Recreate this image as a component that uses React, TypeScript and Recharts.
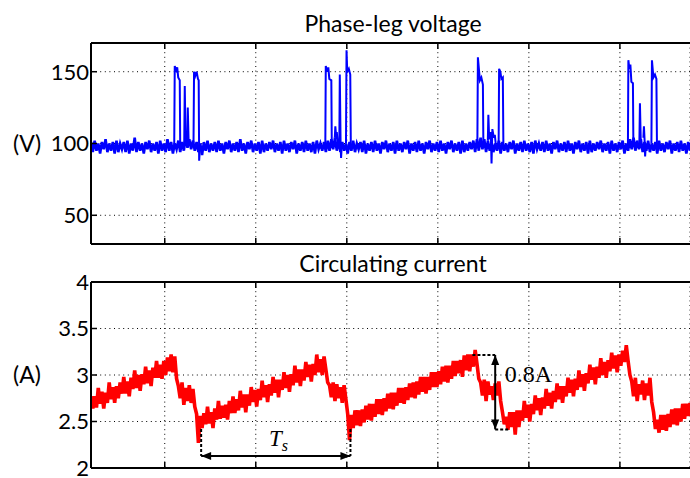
import React from "react";
import {
  ComposedChart,
  Line,
  XAxis,
  YAxis,
  CartesianGrid,
  ReferenceLine,
  ReferenceDot,
} from "recharts";

// ---------------------------------------------------------------------------
// Datos (tiempo en divisiones de la rejilla, tensión en V, corriente en A)
// ---------------------------------------------------------------------------
const T_DOMAIN: [number, number] = [-0.81, 5.77];
const T_TICKS = [0, 1, 2, 3, 4, 5];
const SAMPLE_START = -0.81;
const SAMPLE_STEP = 0.02;

const V_DOMAIN: [number, number] = [30, 170];
const V_TICKS = [50, 100, 150];
const I_DOMAIN: [number, number] = [2, 4];
const I_TICKS = [2, 2.5, 3, 3.5, 4];

// tensión de rama: ruido de base, una muestra cada SAMPLE_STEP
const VOLTAGE_BASE = [
  101, 94, 102, 95, 100, 93, 101, 96, 103, 94,
  100, 95, 101, 93, 102, 94, 100, 96, 101, 94,
  102, 93, 100, 95, 104, 94, 101, 95, 100, 93,
  101, 96, 102, 94, 100, 95, 101, 93, 102, 95,
  100, 94, 103, 95, 101, 93, 100, 96, 102, 94,
  101, 95, 104, 97, 103, 96, 102, 95, 101, 94,
  100, 92, 101, 95, 102, 94, 100, 95, 101, 94,
  102, 95, 100, 93, 101, 96, 102, 94, 100, 95,
  101, 94, 103, 95, 100, 93, 101, 96, 102, 94,
  100, 95, 101, 93, 102, 94, 100, 95, 101, 96,
  102, 94, 100, 95, 101, 93, 102, 95, 100, 94,
  101, 96, 102, 93, 100, 95, 101, 94, 102, 95,
  100, 94, 101, 93, 102, 96, 100, 95, 101, 94,
  102, 95, 103, 96, 104, 95, 102, 94, 101, 95,
  100, 93, 101, 95, 102, 94, 100, 96, 101, 94,
  102, 93, 100, 95, 101, 94, 102, 95, 100, 93,
  101, 96, 102, 94, 100, 95, 101, 93, 102, 95,
  100, 94, 101, 96, 102, 93, 100, 95, 101, 94,
  102, 95, 100, 93, 101, 96, 102, 94, 100, 95,
  101, 94, 102, 95, 100, 93, 101, 96, 102, 94,
  100, 95, 101, 93, 102, 94, 100, 95, 101, 96,
  102, 94, 103, 95, 104, 96, 103, 94, 102, 95,
  101, 94, 100, 95, 102, 93, 101, 95, 100, 94,
  101, 96, 102, 93, 100, 95, 101, 94, 102, 95,
  100, 94, 101, 93, 102, 96, 100, 95, 101, 94,
  102, 95, 100, 93, 101, 96, 102, 94, 100, 95,
  101, 94, 102, 95, 100, 93, 101, 96, 102, 94,
  100, 95, 101, 93, 102, 94, 100, 95, 101, 96,
  102, 94, 100, 95, 101, 93, 102, 95, 100, 94,
  101, 96, 102, 93, 100, 95, 103, 96, 104, 95,
  102, 96, 103, 94, 101, 95, 102, 94, 100, 95,
  101, 93, 102, 95, 100, 94, 101, 96, 102, 93,
  100, 95, 101, 94, 102, 95, 100, 93, 101, 95,
];

// pulsos de conmutación [t, V]; null separa cada pulso
const VOLTAGE_SPIKES: ([number, number] | null)[] = [
  [0.104, 98], [0.11, 154], [0.126, 151], [0.137, 153], [0.148, 146], [0.165, 144], [0.17, 98], null,
  [0.214, 100], [0.22, 140], [0.229, 99], null,
  [0.247, 100], [0.253, 125], [0.262, 102], null,
  [0.316, 100], [0.322, 150], [0.335, 147], [0.35, 150], [0.365, 145], [0.373, 144], [0.378, 88], [0.39, 100], null,
  [1.764, 98], [1.769, 154], [1.786, 150], [1.797, 153], [1.808, 145], [1.83, 144], [1.835, 100], null,
  [1.868, 104], [1.874, 112], [1.885, 103], [1.89, 108], [1.899, 101], null,
  [1.918, 100], [1.923, 148], [1.932, 99], [1.937, 90], [1.945, 99], null,
  [1.991, 100], [1.997, 165], [2.005, 150], [2.022, 152], [2.038, 148], [2.044, 99], null,
  [3.434, 98], [3.44, 160], [3.451, 152], [3.462, 144], [3.478, 146], [3.495, 141], [3.5, 100], null,
  [3.549, 102], [3.555, 120], [3.564, 103], [3.582, 108], [3.59, 86], [3.599, 110], [3.615, 104], [3.626, 106], [3.637, 99], null,
  [3.668, 100], [3.673, 152], [3.687, 150], [3.698, 145], [3.714, 146], [3.72, 99], null,
  [5.088, 98], [5.093, 158], [5.104, 152], [5.115, 155], [5.126, 143], [5.143, 142], [5.148, 100], null,
  [5.214, 101], [5.22, 128], [5.229, 102], null,
  [5.258, 104], [5.264, 112], [5.273, 100], [5.277, 91], [5.286, 100], null,
  [5.346, 100], [5.352, 158], [5.368, 146], [5.385, 148], [5.401, 145], [5.407, 99],
];

// corriente circulante, una muestra cada SAMPLE_STEP
const CURRENT = [
  // rampa 1
  2.77, 2.64, 2.77, 2.65, 2.86, 2.69, 2.82, 2.64, 2.81, 2.70,
  2.92, 2.74, 2.87, 2.70, 2.88, 2.75, 2.92, 2.80, 2.98, 2.80,
  2.93, 2.77, 2.97, 2.85, 3.05, 2.86, 3.00, 2.83, 3.01, 2.90,
  3.09, 2.91, 3.05, 2.88, 3.08, 2.97, 3.15, 2.97, 3.11, 2.96,
  3.15, 3.00, 3.19, 3.04, 3.22, 3.03, 3.20,
  2.96,
  2.88, 2.75, 2.92, 2.68, 2.86, 2.72, 2.89, 2.70, 2.85, 2.66,
  2.58, 2.27,
  // rampa 2
  2.56, 2.43, 2.59, 2.47, 2.66, 2.48, 2.60, 2.43, 2.64, 2.52,
  2.72, 2.53, 2.67, 2.54, 2.68, 2.52, 2.72, 2.59, 2.77, 2.59,
  2.74, 2.62, 2.83, 2.65, 2.79, 2.60, 2.79, 2.67, 2.87, 2.71,
  2.84, 2.66, 2.85, 2.73, 2.94, 2.76, 2.89, 2.71, 2.90, 2.78,
  2.98, 2.81, 2.95, 2.76, 2.95, 2.84, 3.03, 2.86, 3.00, 2.82,
  3.01, 2.89, 3.10, 2.92, 3.06, 2.88, 3.06, 2.94, 3.14, 2.98,
  3.11, 2.93, 3.12, 3.00, 3.22, 3.03, 3.17, 3.00, 3.20, 3.06,
  2.92,
  2.89, 2.76, 2.92, 2.72, 2.90, 2.75, 2.87, 2.70, 2.89, 2.74,
  2.58, 2.30,
  // rampa 3
  2.57, 2.43, 2.62, 2.46, 2.62, 2.45, 2.63, 2.49, 2.67, 2.52,
  2.69, 2.51, 2.69, 2.55, 2.74, 2.58, 2.74, 2.57, 2.75, 2.61,
  2.80, 2.64, 2.81, 2.63, 2.81, 2.67, 2.86, 2.70, 2.86, 2.69,
  2.87, 2.73, 2.91, 2.76, 2.92, 2.75, 2.93, 2.79, 2.98, 2.82,
  2.98, 2.80, 2.98, 2.84, 3.03, 2.87, 3.03, 2.87, 3.04, 2.90,
  3.09, 2.93, 3.10, 2.92, 3.10, 2.96, 3.15, 2.99, 3.15, 3.02,
  3.16, 2.98, 3.21, 3.05, 3.22, 3.04, 3.22, 3.09, 3.27, 3.12,
  2.96,
  2.92, 2.78, 2.95, 2.72, 2.93, 2.79, 2.88, 2.73, 2.91, 2.78, 2.93, 2.72,
  2.60, 2.47,
  // rampa 4
  2.55, 2.41, 2.60, 2.44, 2.60, 2.36, 2.62, 2.44, 2.62, 2.51,
  2.72, 2.54, 2.68, 2.50, 2.69, 2.58, 2.78, 2.62, 2.75, 2.57,
  2.76, 2.64, 2.85, 2.67, 2.81, 2.64, 2.83, 2.71, 2.91, 2.74,
  2.88, 2.70, 2.88, 2.77, 2.97, 2.81, 2.95, 2.77, 2.96, 2.84,
  3.05, 2.87, 3.01, 2.83, 3.02, 2.91, 3.11, 2.95, 3.08, 2.90,
  3.09, 2.97, 3.18, 3.00, 3.14, 2.97, 3.16, 3.04, 3.24, 3.07,
  3.21, 3.03, 3.22, 3.10, 3.26, 3.14, 3.32, 3.15,
  3.00,
  2.93, 2.77, 2.97, 2.72, 2.90, 2.79, 2.94, 2.73, 2.91, 2.78, 2.97, 2.71,
  2.60, 2.42,
  // rampa 5
  2.52, 2.38, 2.57, 2.41, 2.57, 2.40, 2.58, 2.44, 2.63, 2.47,
  2.64, 2.46, 2.64, 2.50, 2.69, 2.53, 2.69, 2.56, 2.70,
];

// anotaciones
const TS_START = 0.4;
const TS_END = 2.04;
const TS_LEVEL = 2.13;
const TS_FOOT = 2.42;
const TS_LABEL_AT: [number, number] = [1.25, 2.236];

const DELTA_PEAK = 3.215;
const DELTA_VALLEY = 2.415;
const DELTA_AT = 3.63;
const DELTA_PEAK_FROM = 3.38;
const DELTA_VALLEY_TO = 3.78;
const DELTA_LABEL_AT: [number, number] = [3.735, 2.925];
const DELTA_LABEL = "0.8A";

// ---------------------------------------------------------------------------
// Estilos
// ---------------------------------------------------------------------------
const FONT = "Lato, 'Open Sans', sans-serif";
const SERIF = "'Liberation Serif', 'DejaVu Serif', serif";
const W = 690;
const AXIS_LINE = { stroke: "#000", strokeWidth: 2 };
const TICK_LINE = { stroke: "#000", strokeWidth: 1.5 };
const TICK_STYLE = { fill: "#000", fontSize: 22, fontFamily: FONT };
const GRID_DASH = "1 3.6";

const sampled = (arr: number[]) =>
  arr.map((v, i) => ({ t: SAMPLE_START + i * SAMPLE_STEP, v }));

const voltageData = sampled(VOLTAGE_BASE);
const currentData = sampled(CURRENT);
const spikeData = VOLTAGE_SPIKES.map((p, i) =>
  p ? { t: p[0], v: p[1] } : { t: (VOLTAGE_SPIKES[i - 1] as [number, number])[0], v: null }
);

function arrowShape(bothEnds: boolean) {
  return (p: any) => {
    const { x1, y1, x2, y2 } = p;
    const a = Math.atan2(y2 - y1, x2 - x1);
    const L = 10;
    const H = 4;
    const head = (x: number, y: number, ang: number, k: string) => {
      const bx = x - L * Math.cos(ang);
      const by = y - L * Math.sin(ang);
      const nx = -Math.sin(ang) * H;
      const ny = Math.cos(ang) * H;
      return (
        <polygon
          key={k}
          points={`${x},${y} ${bx + nx},${by + ny} ${bx - nx},${by - ny}`}
          fill="#000"
        />
      );
    };
    return (
      <g>
        <line x1={x1} y1={y1} x2={x2} y2={y2} stroke="#000" strokeWidth={2} />
        {head(x2, y2, a, "e")}
        {bothEnds && head(x1, y1, a + Math.PI, "s")}
      </g>
    );
  };
}

function Title({ top, children }: { top: number; children: React.ReactNode }) {
  return (
    <div
      style={{
        position: "absolute",
        left: 91,
        top,
        width: 604,
        textAlign: "center",
        fontSize: 23,
        fontFamily: FONT,
        color: "#000",
        whiteSpace: "nowrap",
      }}
    >
      {children}
    </div>
  );
}

const noLabel = () => "";

// ejes de tiempo abajo y arriba, solo con marcas hacia dentro
function xAxes() {
  return [
    <XAxis
      key="b"
      dataKey="t"
      type="number"
      domain={T_DOMAIN}
      ticks={T_TICKS}
      interval={0}
      allowDataOverflow
      height={1}
      tickFormatter={noLabel}
      tickSize={-6}
      axisLine={AXIS_LINE}
      tickLine={TICK_LINE}
    />,
    <XAxis
      key="t"
      xAxisId="top"
      orientation="top"
      dataKey="t"
      type="number"
      domain={T_DOMAIN}
      ticks={T_TICKS}
      interval={0}
      allowDataOverflow
      height={1}
      tickFormatter={noLabel}
      tickSize={-6}
      axisLine={AXIS_LINE}
      tickLine={TICK_LINE}
    />,
  ];
}

export default function App() {
  return (
    <div
      style={{
        position: "absolute",
        left: 0,
        top: 0,
        width: W,
        height: 478,
        background: "#fff",
        overflow: "hidden",
      }}
    >
      <Title top={9}>Phase-leg voltage</Title>
      <div style={{ position: "absolute", left: 0, top: 0 }}>
        <ComposedChart
          width={W}
          height={250}
          margin={{ top: 42, right: 0, bottom: 5, left: 0 }}
        >
          <CartesianGrid stroke="#000" strokeDasharray={GRID_DASH} />
          {xAxes()}
          <YAxis
            type="number"
            domain={V_DOMAIN}
            ticks={V_TICKS}
            interval={0}
            allowDataOverflow
            width={91}
            tickSize={-6}
            tickMargin={8}
            tick={TICK_STYLE}
            axisLine={AXIS_LINE}
            tickLine={TICK_LINE}
            label={{
              value: "(V)",
              position: "insideLeft",
              offset: 13,
              fill: "#000",
              fontSize: 23,
              fontFamily: FONT,
            }}
          />
          <Line
            data={voltageData}
            dataKey="v"
            type="linear"
            stroke="#0000ff"
            strokeWidth={2.6}
            dot={false}
            activeDot={false}
            isAnimationActive={false}
          />
          <Line
            data={spikeData}
            dataKey="v"
            type="linear"
            stroke="#0000ff"
            strokeWidth={2}
            dot={false}
            activeDot={false}
            connectNulls={false}
            isAnimationActive={false}
          />
        </ComposedChart>
      </div>

      <Title top={249}>Circulating current</Title>
      <div style={{ position: "absolute", left: 0, top: 250 }}>
        <ComposedChart
          width={W}
          height={228}
          margin={{ top: 31, right: 0, bottom: 9, left: 0 }}
        >
          <CartesianGrid stroke="#000" strokeDasharray={GRID_DASH} />
          {xAxes()}
          <YAxis
            type="number"
            domain={I_DOMAIN}
            ticks={I_TICKS}
            interval={0}
            allowDataOverflow
            width={91}
            tickSize={-6}
            tickMargin={8}
            tick={TICK_STYLE}
            axisLine={AXIS_LINE}
            tickLine={TICK_LINE}
            label={{
              value: "(A)",
              position: "insideLeft",
              offset: 13,
              fill: "#000",
              fontSize: 23,
              fontFamily: FONT,
            }}
          />
          <Line
            data={currentData}
            dataKey="v"
            type="linear"
            stroke="#ff0000"
            strokeWidth={3.6}
            dot={false}
            activeDot={false}
            isAnimationActive={false}
          />

          {/* Ts */}
          <ReferenceLine
            segment={[{ x: TS_START, y: TS_FOOT }, { x: TS_START, y: TS_LEVEL }]}
            stroke="#000"
            strokeWidth={2}
            strokeDasharray="3 2"
          />
          <ReferenceLine
            segment={[{ x: TS_END, y: TS_FOOT }, { x: TS_END, y: TS_LEVEL }]}
            stroke="#000"
            strokeWidth={2}
            strokeDasharray="3 2"
          />
          <ReferenceLine
            segment={[{ x: TS_START, y: TS_LEVEL }, { x: TS_END, y: TS_LEVEL }]}
            shape={arrowShape(true)}
          />
          <ReferenceDot
            x={TS_LABEL_AT[0]}
            y={TS_LABEL_AT[1]}
            r={0}
            shape={(p: any) => (
              <text
                x={p.cx}
                y={p.cy}
                textAnchor="middle"
                fontFamily={SERIF}
                fontStyle="italic"
                fontSize={23}
                fill="#000"
              >
                T
                <tspan dy={5} fontSize={16}>
                  s
                </tspan>
              </text>
            )}
          />

          {/* 0.8A */}
          <ReferenceLine
            segment={[{ x: DELTA_PEAK_FROM, y: DELTA_PEAK }, { x: DELTA_AT, y: DELTA_PEAK }]}
            stroke="#000"
            strokeWidth={2}
            strokeDasharray="3 2"
          />
          <ReferenceLine
            segment={[{ x: DELTA_AT, y: DELTA_VALLEY }, { x: DELTA_VALLEY_TO, y: DELTA_VALLEY }]}
            stroke="#000"
            strokeWidth={2}
            strokeDasharray="3 2"
          />
          <ReferenceLine
            segment={[{ x: DELTA_AT, y: DELTA_PEAK }, { x: DELTA_AT, y: DELTA_VALLEY }]}
            shape={arrowShape(true)}
          />
          <ReferenceDot
            x={DELTA_LABEL_AT[0]}
            y={DELTA_LABEL_AT[1]}
            r={0}
            shape={(p: any) => (
              <text
                x={p.cx}
                y={p.cy}
                textAnchor="start"
                fontFamily={SERIF}
                fontSize={24}
                fill="#000"
              >
                {DELTA_LABEL}
              </text>
            )}
          />
        </ComposedChart>
      </div>
    </div>
  );
}
